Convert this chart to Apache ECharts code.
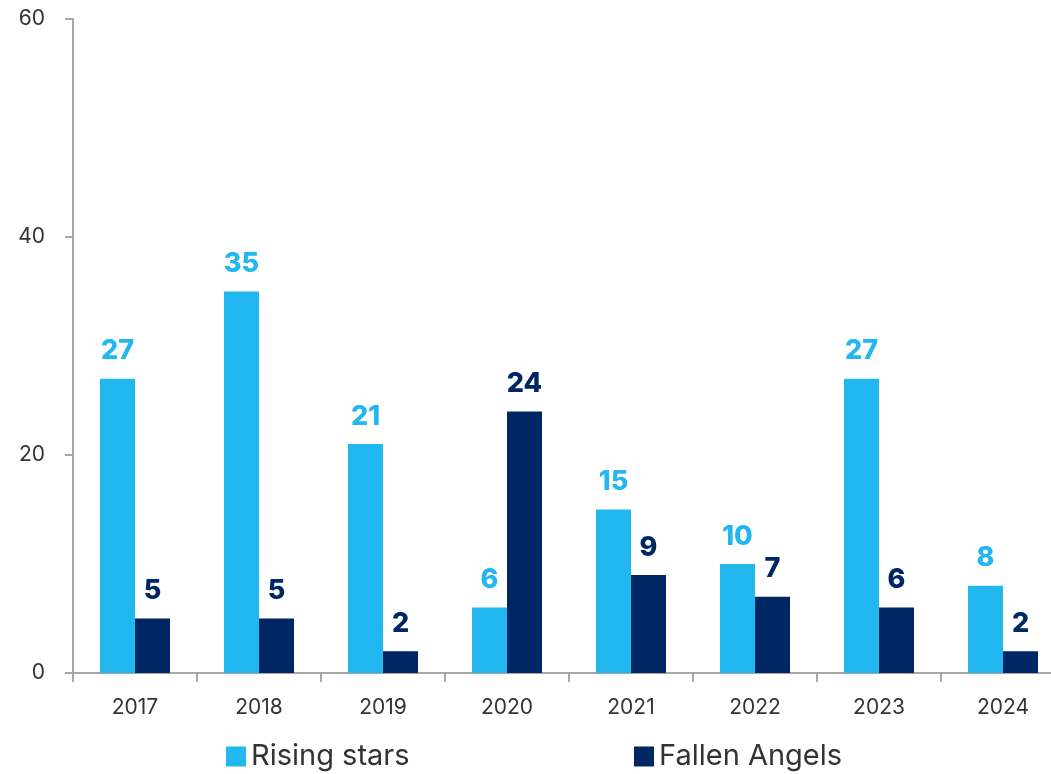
<!DOCTYPE html>
<html>
<head>
<meta charset="utf-8">
<script src="https://cdn.jsdelivr.net/npm/echarts@6/dist/echarts.min.js"></script>
<style>
  html, body { margin: 0; padding: 0; background: #fff; }
  #chart { width: 1051px; height: 774px; }
</style>
</head>
<body>
<div id="chart"></div>
<script>
// Yearly counts of rating upgrades (rising stars) and downgrades (fallen angels)
const years = ['2017', '2018', '2019', '2020', '2021', '2022', '2023', '2024'];
const risingStars = [27, 35, 21, 6, 15, 10, 27, 8];
const fallenAngels = [5, 5, 2, 24, 9, 7, 6, 2];
const yTicks = { min: 0, max: 60, interval: 20 };

const LIGHT = '#22B7EF';
const DARK = '#002663';
const AXIS = '#A6A6A6';
const FONT = 'Inter, "Noto Sans", sans-serif';

const chart = echarts.init(document.getElementById('chart'));

function barSeries(name, data, color) {
  return {
    name: name,
    type: 'bar',
    data: data,
    barWidth: 35,
    barGap: '0%',
    itemStyle: { color: color },
    label: {
      show: true,
      position: 'top',
      distance: 14,
      color: color,
      fontFamily: FONT,
      fontWeight: 800,
      fontSize: 27
    }
  };
}

function legendAt(left, name) {
  return {
    data: [name],
    left: left,
    top: 737,
    icon: 'rect',
    itemWidth: 20,
    itemHeight: 20,
    itemGap: 0,
    itemTextGap: 10,
    selectedMode: false,
    textStyle: { fontFamily: FONT, fontSize: 29, color: '#333' }
  };
}

chart.setOption({
  animation: false,
  backgroundColor: '#fff',
  // plot area runs a little past the right edge of the canvas
  grid: {
    left: 73, top: 19, width: 992, bottom: 101,
    containLabel: false,
    outerBoundsMode: 'none'
  },
  legend: [legendAt(221, 'Rising stars'), legendAt(629, 'Fallen Angels')],
  xAxis: {
    type: 'category',
    data: years,
    axisLine: { lineStyle: { color: AXIS, width: 2 } },
    axisTick: { show: true, length: 9, alignWithLabel: false, lineStyle: { color: AXIS, width: 2 } },
    axisLabel: { margin: 24, color: '#333', fontFamily: FONT, fontSize: 21 }
  },
  yAxis: {
    type: 'value',
    min: yTicks.min,
    max: yTicks.max,
    interval: yTicks.interval,
    splitLine: { show: false },
    axisLine: { show: true, lineStyle: { color: AXIS, width: 2 } },
    axisTick: { show: true, length: 8, lineStyle: { color: AXIS, width: 2 } },
    axisLabel: { margin: 28, color: '#333', fontFamily: FONT, fontSize: 21 }
  },
  series: [
    barSeries('Rising stars', risingStars, LIGHT),
    barSeries('Fallen Angels', fallenAngels, DARK)
  ]
});
</script>
</body>
</html>
